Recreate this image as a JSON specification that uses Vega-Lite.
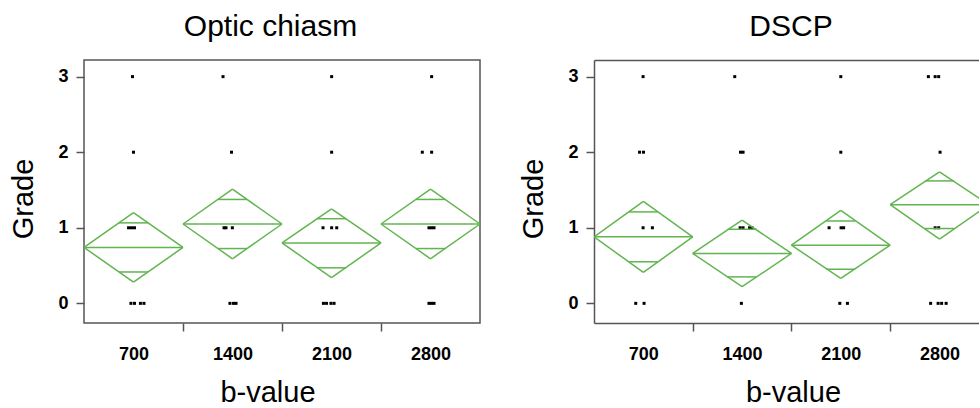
{
  "$schema": "https://vega.github.io/schema/vega-lite/v6.json",
  "autosize": {"type": "pad"},
  "padding": {"left": 8, "top": 11, "right": 0, "bottom": 0},
  "background": "white",
  "datasets": {
    "pts": [
      {"r": "Optic chiasm", "b": 700, "bx": 693, "grade": 3},
      {"r": "Optic chiasm", "b": 700, "bx": 700, "grade": 2},
      {"r": "Optic chiasm", "b": 700, "bx": 665, "grade": 1},
      {"r": "Optic chiasm", "b": 700, "bx": 686, "grade": 1},
      {"r": "Optic chiasm", "b": 700, "bx": 707, "grade": 1},
      {"r": "Optic chiasm", "b": 700, "bx": 682, "grade": 0},
      {"r": "Optic chiasm", "b": 700, "bx": 707, "grade": 0},
      {"r": "Optic chiasm", "b": 700, "bx": 749, "grade": 0},
      {"r": "Optic chiasm", "b": 700, "bx": 774, "grade": 0},
      {"r": "Optic chiasm", "b": 1400, "bx": 1333, "grade": 3},
      {"r": "Optic chiasm", "b": 1400, "bx": 1393, "grade": 2},
      {"r": "Optic chiasm", "b": 1400, "bx": 1340, "grade": 1},
      {"r": "Optic chiasm", "b": 1400, "bx": 1354, "grade": 1},
      {"r": "Optic chiasm", "b": 1400, "bx": 1399, "grade": 1},
      {"r": "Optic chiasm", "b": 1400, "bx": 1382, "grade": 0},
      {"r": "Optic chiasm", "b": 1400, "bx": 1407, "grade": 0},
      {"r": "Optic chiasm", "b": 1400, "bx": 1425, "grade": 0},
      {"r": "Optic chiasm", "b": 2100, "bx": 2101, "grade": 3},
      {"r": "Optic chiasm", "b": 2100, "bx": 2101, "grade": 2},
      {"r": "Optic chiasm", "b": 2100, "bx": 2040, "grade": 1},
      {"r": "Optic chiasm", "b": 2100, "bx": 2101, "grade": 1},
      {"r": "Optic chiasm", "b": 2100, "bx": 2137, "grade": 1},
      {"r": "Optic chiasm", "b": 2100, "bx": 2043, "grade": 0},
      {"r": "Optic chiasm", "b": 2100, "bx": 2065, "grade": 0},
      {"r": "Optic chiasm", "b": 2100, "bx": 2096, "grade": 0},
      {"r": "Optic chiasm", "b": 2100, "bx": 2118, "grade": 0},
      {"r": "Optic chiasm", "b": 2800, "bx": 2808, "grade": 3},
      {"r": "Optic chiasm", "b": 2800, "bx": 2742, "grade": 2},
      {"r": "Optic chiasm", "b": 2800, "bx": 2808, "grade": 2},
      {"r": "Optic chiasm", "b": 2800, "bx": 2789, "grade": 1},
      {"r": "Optic chiasm", "b": 2800, "bx": 2807, "grade": 1},
      {"r": "Optic chiasm", "b": 2800, "bx": 2825, "grade": 1},
      {"r": "Optic chiasm", "b": 2800, "bx": 2789, "grade": 0},
      {"r": "Optic chiasm", "b": 2800, "bx": 2807, "grade": 0},
      {"r": "Optic chiasm", "b": 2800, "bx": 2825, "grade": 0},
      {"r": "DSCP", "b": 700, "bx": 698, "grade": 3},
      {"r": "DSCP", "b": 700, "bx": 673, "grade": 2},
      {"r": "DSCP", "b": 700, "bx": 701, "grade": 2},
      {"r": "DSCP", "b": 700, "bx": 698, "grade": 1},
      {"r": "DSCP", "b": 700, "bx": 764, "grade": 1},
      {"r": "DSCP", "b": 700, "bx": 646, "grade": 0},
      {"r": "DSCP", "b": 700, "bx": 705, "grade": 0},
      {"r": "DSCP", "b": 1400, "bx": 1348, "grade": 3},
      {"r": "DSCP", "b": 1400, "bx": 1389, "grade": 2},
      {"r": "DSCP", "b": 1400, "bx": 1407, "grade": 2},
      {"r": "DSCP", "b": 1400, "bx": 1386, "grade": 1},
      {"r": "DSCP", "b": 1400, "bx": 1407, "grade": 1},
      {"r": "DSCP", "b": 1400, "bx": 1453, "grade": 1},
      {"r": "DSCP", "b": 1400, "bx": 1471, "grade": 1},
      {"r": "DSCP", "b": 1400, "bx": 1395, "grade": 0},
      {"r": "DSCP", "b": 2100, "bx": 2100, "grade": 3},
      {"r": "DSCP", "b": 2100, "bx": 2100, "grade": 2},
      {"r": "DSCP", "b": 2100, "bx": 2017, "grade": 1},
      {"r": "DSCP", "b": 2100, "bx": 2102, "grade": 1},
      {"r": "DSCP", "b": 2100, "bx": 2120, "grade": 1},
      {"r": "DSCP", "b": 2100, "bx": 2093, "grade": 0},
      {"r": "DSCP", "b": 2100, "bx": 2147, "grade": 0},
      {"r": "DSCP", "b": 2800, "bx": 2721, "grade": 3},
      {"r": "DSCP", "b": 2800, "bx": 2769, "grade": 3},
      {"r": "DSCP", "b": 2800, "bx": 2794, "grade": 3},
      {"r": "DSCP", "b": 2800, "bx": 2804, "grade": 2},
      {"r": "DSCP", "b": 2800, "bx": 2769, "grade": 1},
      {"r": "DSCP", "b": 2800, "bx": 2794, "grade": 1},
      {"r": "DSCP", "b": 2800, "bx": 2737, "grade": 0},
      {"r": "DSCP", "b": 2800, "bx": 2790, "grade": 0},
      {"r": "DSCP", "b": 2800, "bx": 2815, "grade": 0},
      {"r": "DSCP", "b": 2800, "bx": 2847, "grade": 0}
    ],
    "dia": [
      {"r": "Optic chiasm", "b": 700, "left": 350, "right": 1050, "mean": 0.74, "lower": 0.28, "upper": 1.2, "olo": 0.415, "ohi": 1.065},
      {"r": "Optic chiasm", "b": 1400, "left": 1050, "right": 1750, "mean": 1.05, "lower": 0.59, "upper": 1.51, "olo": 0.725, "ohi": 1.375},
      {"r": "Optic chiasm", "b": 2100, "left": 1750, "right": 2450, "mean": 0.8, "lower": 0.34, "upper": 1.25, "olo": 0.47, "ohi": 1.12},
      {"r": "Optic chiasm", "b": 2800, "left": 2450, "right": 3150, "mean": 1.05, "lower": 0.59, "upper": 1.51, "olo": 0.725, "ohi": 1.375},
      {"r": "DSCP", "b": 700, "left": 350, "right": 1050, "mean": 0.88, "lower": 0.41, "upper": 1.35, "olo": 0.55, "ohi": 1.21},
      {"r": "DSCP", "b": 1400, "left": 1050, "right": 1750, "mean": 0.66, "lower": 0.22, "upper": 1.1, "olo": 0.35, "ohi": 0.98},
      {"r": "DSCP", "b": 2100, "left": 1750, "right": 2450, "mean": 0.77, "lower": 0.33, "upper": 1.23, "olo": 0.45, "ohi": 1.09},
      {"r": "DSCP", "b": 2800, "left": 2450, "right": 3150, "mean": 1.305, "lower": 0.85, "upper": 1.74, "olo": 0.99, "ohi": 1.62}
    ]
  },
  "hconcat": [
    {
      "title": {"text": "Optic chiasm", "fontSize": 30, "font": "Liberation Sans", "fontWeight": "normal", "color": "#000", "dx": -11.5, "offset": 18},
      "width": 396,
      "height": 263,
      "resolve": {"axis": {"x": "independent"}},
      "layer": [
        {
          "data": {"name": "pts"},
          "transform": [{"filter": "datum.r === 'Optic chiasm'"}],
          "mark": {"type": "point", "shape": "square", "filled": true, "size": 9, "color": "#000", "opacity": 1},
          "encoding": {
            "x": {"field": "bx", "type": "quantitative", "scale": {"domain": [350, 3150], "nice": false, "zero": false},
                  "axis": {"orient": "bottom", "values": [700, 1400, 2100, 2800], "format": "d", "ticks": false, "domain": false, "labelPadding": 22, "labelFlush": false, "labelOverlap": false, "title": "b-value", "titleX": 183.5, "titleY": 78, "titleBaseline": "alphabetic", "grid": false}},
            "y": {"field": "grade", "type": "quantitative", "scale": {"domain": [-0.26, 3.22], "nice": false, "zero": false},
                  "axis": {"values": [0, 1, 2, 3], "format": "d", "domain": false, "labelPadding": 8, "labelFlush": false, "labelOverlap": false, "title": "Grade", "titleX": -52, "titleY": 138.5, "titleBaseline": "alphabetic", "titleAngle": -90, "titleAlign": "center", "grid": false}}
          }
        },
        {
          "data": {"name": "dia"},
          "transform": [{"filter": "datum.r === 'Optic chiasm'"}],
          "mark": {"type": "rule", "color": "#62b450", "strokeWidth": 1.5},
          "encoding": {
            "x": {"field": "left", "type": "quantitative", "scale": {"domain": [350, 3150], "nice": false, "zero": false},
                  "axis": {"orient": "bottom", "values": [1050, 1750, 2450], "labels": false, "domain": false, "ticks": true, "title": null, "grid": false}},
            "x2": {"field": "right"},
            "y": {"field": "mean", "type": "quantitative", "scale": {"domain": [-0.26, 3.22], "nice": false, "zero": false}}
          }
        },
        {
          "data": {"name": "dia"},
          "transform": [{"filter": "datum.r === 'Optic chiasm'"}],
          "mark": {"type": "rule", "color": "#62b450", "strokeWidth": 1.5},
          "encoding": {
            "x": {"field": "left", "type": "quantitative", "scale": {"domain": [350, 3150], "nice": false, "zero": false}, "axis": null},
            "x2": {"field": "b"},
            "y": {"field": "mean", "type": "quantitative", "scale": {"domain": [-0.26, 3.22], "nice": false, "zero": false}},
            "y2": {"field": "upper"}
          }
        },
        {
          "data": {"name": "dia"},
          "transform": [{"filter": "datum.r === 'Optic chiasm'"}],
          "mark": {"type": "rule", "color": "#62b450", "strokeWidth": 1.5},
          "encoding": {
            "x": {"field": "b", "type": "quantitative", "scale": {"domain": [350, 3150], "nice": false, "zero": false}, "axis": null},
            "x2": {"field": "right"},
            "y": {"field": "upper", "type": "quantitative", "scale": {"domain": [-0.26, 3.22], "nice": false, "zero": false}},
            "y2": {"field": "mean"}
          }
        },
        {
          "data": {"name": "dia"},
          "transform": [{"filter": "datum.r === 'Optic chiasm'"}],
          "mark": {"type": "rule", "color": "#62b450", "strokeWidth": 1.5},
          "encoding": {
            "x": {"field": "right", "type": "quantitative", "scale": {"domain": [350, 3150], "nice": false, "zero": false}, "axis": null},
            "x2": {"field": "b"},
            "y": {"field": "mean", "type": "quantitative", "scale": {"domain": [-0.26, 3.22], "nice": false, "zero": false}},
            "y2": {"field": "lower"}
          }
        },
        {
          "data": {"name": "dia"},
          "transform": [{"filter": "datum.r === 'Optic chiasm'"}],
          "mark": {"type": "rule", "color": "#62b450", "strokeWidth": 1.5},
          "encoding": {
            "x": {"field": "b", "type": "quantitative", "scale": {"domain": [350, 3150], "nice": false, "zero": false}, "axis": null},
            "x2": {"field": "left"},
            "y": {"field": "lower", "type": "quantitative", "scale": {"domain": [-0.26, 3.22], "nice": false, "zero": false}},
            "y2": {"field": "mean"}
          }
        },
        {
          "data": {"name": "dia"},
          "transform": [{"filter": "datum.r === 'Optic chiasm'"}],
          "mark": {"type": "tick", "orient": "horizontal", "size": 29, "thickness": 1.5, "color": "#62b450", "opacity": 1},
          "encoding": {
            "x": {"field": "b", "type": "quantitative", "scale": {"domain": [350, 3150], "nice": false, "zero": false}, "axis": null},
            "y": {"field": "ohi", "type": "quantitative", "scale": {"domain": [-0.26, 3.22], "nice": false, "zero": false}}
          }
        },
        {
          "data": {"name": "dia"},
          "transform": [{"filter": "datum.r === 'Optic chiasm'"}],
          "mark": {"type": "tick", "orient": "horizontal", "size": 29, "thickness": 1.5, "color": "#62b450", "opacity": 1},
          "encoding": {
            "x": {"field": "b", "type": "quantitative", "scale": {"domain": [350, 3150], "nice": false, "zero": false}, "axis": null},
            "y": {"field": "olo", "type": "quantitative", "scale": {"domain": [-0.26, 3.22], "nice": false, "zero": false}}
          }
        }
      ]
    },
    {
      "title": {"text": "DSCP", "fontSize": 30, "font": "Liberation Sans", "fontWeight": "normal", "color": "#000", "dx": 4.5, "offset": 18},
      "width": 385,
      "height": 263,
      "view": {"stroke": null},
      "resolve": {"axis": {"x": "independent"}},
      "layer": [
        {
          "data": {"name": "pts"},
          "transform": [{"filter": "datum.r === 'DSCP'"}],
          "mark": {"type": "point", "shape": "square", "filled": true, "size": 9, "color": "#000", "opacity": 1, "clip": true},
          "encoding": {
            "x": {"field": "bx", "type": "quantitative", "scale": {"domain": [350, 3080], "nice": false, "zero": false},
                  "axis": {"orient": "bottom", "values": [700, 1400, 2100, 2800], "format": "d", "ticks": false, "domain": true, "labelPadding": 22, "labelFlush": false, "labelOverlap": false, "title": "b-value", "titleX": 199, "titleY": 78, "titleBaseline": "alphabetic", "grid": false}},
            "y": {"field": "grade", "type": "quantitative", "scale": {"domain": [-0.26, 3.22], "nice": false, "zero": false},
                  "axis": {"values": [0, 1, 2, 3], "format": "d", "domain": true, "labelPadding": 8, "labelFlush": false, "labelOverlap": false, "title": "Grade", "titleX": -52, "titleY": 138.5, "titleBaseline": "alphabetic", "titleAngle": -90, "titleAlign": "center", "grid": false}}
          }
        },
        {
          "data": {"name": "dia"},
          "transform": [{"filter": "datum.r === 'DSCP'"}],
          "mark": {"type": "rule", "color": "#62b450", "strokeWidth": 1.5, "clip": true},
          "encoding": {
            "x": {"field": "left", "type": "quantitative", "scale": {"domain": [350, 3080], "nice": false, "zero": false},
                  "axis": {"orient": "bottom", "values": [1050, 1750, 2450], "labels": false, "domain": false, "ticks": true, "title": null, "grid": false}},
            "x2": {"field": "right"},
            "y": {"field": "mean", "type": "quantitative", "scale": {"domain": [-0.26, 3.22], "nice": false, "zero": false}}
          }
        },
        {
          "data": {"name": "dia"},
          "transform": [{"filter": "datum.r === 'DSCP'"}],
          "mark": {"type": "rule", "color": "#62b450", "strokeWidth": 1.5, "clip": true},
          "encoding": {
            "x": {"field": "left", "type": "quantitative", "scale": {"domain": [350, 3080], "nice": false, "zero": false},
                  "axis": {"orient": "top", "labels": false, "ticks": false, "domain": true, "title": null, "grid": false}},
            "x2": {"field": "b"},
            "y": {"field": "mean", "type": "quantitative", "scale": {"domain": [-0.26, 3.22], "nice": false, "zero": false}},
            "y2": {"field": "upper"}
          }
        },
        {
          "data": {"name": "dia"},
          "transform": [{"filter": "datum.r === 'DSCP'"}],
          "mark": {"type": "rule", "color": "#62b450", "strokeWidth": 1.5, "clip": true},
          "encoding": {
            "x": {"field": "b", "type": "quantitative", "scale": {"domain": [350, 3080], "nice": false, "zero": false}, "axis": null},
            "x2": {"field": "right"},
            "y": {"field": "upper", "type": "quantitative", "scale": {"domain": [-0.26, 3.22], "nice": false, "zero": false}},
            "y2": {"field": "mean"}
          }
        },
        {
          "data": {"name": "dia"},
          "transform": [{"filter": "datum.r === 'DSCP'"}],
          "mark": {"type": "rule", "color": "#62b450", "strokeWidth": 1.5, "clip": true},
          "encoding": {
            "x": {"field": "right", "type": "quantitative", "scale": {"domain": [350, 3080], "nice": false, "zero": false}, "axis": null},
            "x2": {"field": "b"},
            "y": {"field": "mean", "type": "quantitative", "scale": {"domain": [-0.26, 3.22], "nice": false, "zero": false}},
            "y2": {"field": "lower"}
          }
        },
        {
          "data": {"name": "dia"},
          "transform": [{"filter": "datum.r === 'DSCP'"}],
          "mark": {"type": "rule", "color": "#62b450", "strokeWidth": 1.5, "clip": true},
          "encoding": {
            "x": {"field": "b", "type": "quantitative", "scale": {"domain": [350, 3080], "nice": false, "zero": false}, "axis": null},
            "x2": {"field": "left"},
            "y": {"field": "lower", "type": "quantitative", "scale": {"domain": [-0.26, 3.22], "nice": false, "zero": false}},
            "y2": {"field": "mean"}
          }
        },
        {
          "data": {"name": "dia"},
          "transform": [{"filter": "datum.r === 'DSCP'"}],
          "mark": {"type": "tick", "orient": "horizontal", "size": 29, "thickness": 1.5, "color": "#62b450", "opacity": 1, "clip": true},
          "encoding": {
            "x": {"field": "b", "type": "quantitative", "scale": {"domain": [350, 3080], "nice": false, "zero": false}, "axis": null},
            "y": {"field": "ohi", "type": "quantitative", "scale": {"domain": [-0.26, 3.22], "nice": false, "zero": false}}
          }
        },
        {
          "data": {"name": "dia"},
          "transform": [{"filter": "datum.r === 'DSCP'"}],
          "mark": {"type": "tick", "orient": "horizontal", "size": 29, "thickness": 1.5, "color": "#62b450", "opacity": 1, "clip": true},
          "encoding": {
            "x": {"field": "b", "type": "quantitative", "scale": {"domain": [350, 3080], "nice": false, "zero": false}, "axis": null},
            "y": {"field": "olo", "type": "quantitative", "scale": {"domain": [-0.26, 3.22], "nice": false, "zero": false}}
          }
        }
      ]
    }
  ],
  "spacing": 114,
  "bounds": "flush",
  "config": {
    "view": {"stroke": "#555", "strokeWidth": 1.5},
    "axis": {
      "labelFont": "Liberation Sans", "labelFontWeight": "bold", "labelFontSize": 18, "labelColor": "#000",
      "titleFont": "Liberation Sans", "titleFontWeight": "normal", "titleFontSize": 29, "titleColor": "#000",
      "tickColor": "#555", "domainColor": "#555", "tickSize": 8, "tickWidth": 1.5, "domainWidth": 1.5, "grid": false
    }
  }
}
